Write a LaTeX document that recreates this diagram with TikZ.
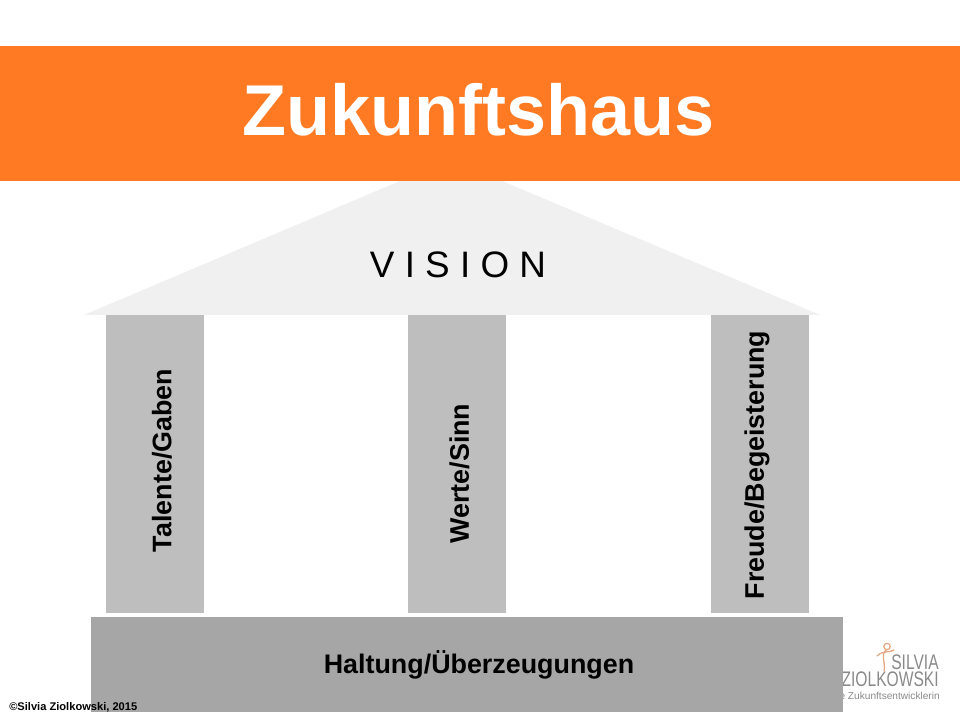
\documentclass[tikz,border=0pt]{standalone}
\usepackage{fontspec}
\usepackage{graphicx}
\setmainfont{Liberation Sans}
\usetikzlibrary{positioning,calc}
\definecolor{bannerorange}{HTML}{FF7A22}
\definecolor{roofgray}{HTML}{F0F0F0}
\definecolor{pillargray}{HTML}{BEBEBE}
\definecolor{basegray}{HTML}{A6A6A6}
\definecolor{logogray}{HTML}{8A8A8A}
\definecolor{logoorange}{HTML}{E8A884}
\tikzset{
  pillar/.style={fill=pillargray,draw=none,minimum width=98*0.025cm,minimum height=298*0.025cm,inner sep=0pt},
  pillartext/.style={rotate=90,font=\bfseries\fontsize{19.1}{22}\selectfont,inner sep=0pt},
  logotext/.style={text=logogray,inner sep=0pt},
  logoline/.style={logoorange,line width=0.9pt,line cap=round}
}
\begin{document}
\begin{tikzpicture}[x=0.025cm,y=-0.025cm]
  \useasboundingbox (0,0) rectangle (960,720);
  \fill [white] (0,0) rectangle (960,720);
  % logo
  \node [logotext,font=\fontsize{15}{16}\selectfont,anchor=base east] (silvia) at (939,669) {\scalebox{0.74}[1]{SILVIA}};
  \node [logotext,font=\fontsize{15}{16}\selectfont,anchor=base east] (ziol) at (939,686) {\scalebox{0.74}[1]{ZIOLKOWSKI}};
  \node [logotext,font=\fontsize{7.2}{8}\selectfont,anchor=east] (slogan) at (940,696) {Die Zukunftsentwicklerin};
  \draw [logoline] (887,646.5) circle (3.2);
  \draw [logoline] (877,656) .. controls (883,650) and (890,653) .. (894,650);
  \draw [logoline] (886,650) .. controls (880,656) and (886,662) .. (884,671);
  % roof
  \fill [roofgray] (84,315) -- (400,181) -- (502,181) -- (820,315) -- cycle;
  \node [font=\fontsize{26.2}{30}\selectfont] (vision) at (458,264.5) {V I S I O N};
  % banner
  \node [fill=bannerorange,minimum width=24cm,minimum height=135*0.025cm,inner sep=0pt] (banner) at (480,113.5) {};
  \node [text=white,font=\bfseries\fontsize{51.2}{60}\selectfont,anchor=base] (title) at (478.5,136) {Zukunftshaus};
  % pillars
  \node [pillar] (talente) at (155,464) {};
  \node [pillar] (werte) at (457,464) {};
  \node [pillar] (freude) at (760,464) {};
  \node [pillartext] at (162,460.5) {Talente/Gaben};
  \node [pillartext] at (459.5,473.5) {Werte/Sinn};
  \node [pillartext] at (757,465) {Freude/Begeisterung};
  % base
  \node [fill=basegray,minimum width=752*0.025cm,minimum height=95*0.025cm,inner sep=0pt] (base) at (467,664.5) {};
  \node [font=\bfseries\fontsize{19.1}{22}\selectfont] (haltung) at (479,665) {Haltung/Überzeugungen};
  \node [font=\bfseries\fontsize{7.9}{9}\selectfont,anchor=west,inner sep=0pt] (copy) at (9,707) {©Silvia Ziolkowski, 2015};
\end{tikzpicture}
\end{document}
